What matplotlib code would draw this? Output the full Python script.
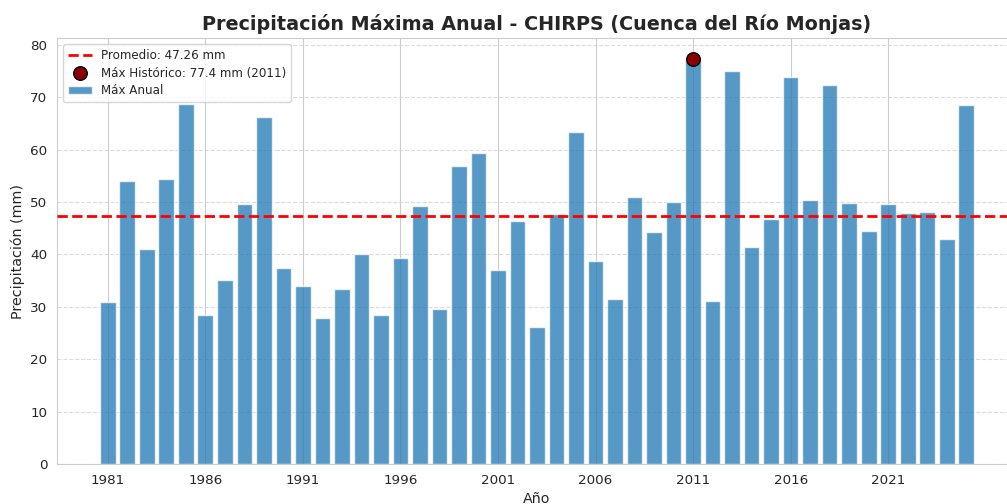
import matplotlib
matplotlib.use("Agg")
import matplotlib.pyplot as plt
import seaborn as sns
import numpy as np

# datos CHIRPS - precipitación máxima anual (mm)
anios = list(range(1981, 2026))
max_anual = [30.9, 54.0, 41.0, 54.5, 68.7,
             28.5, 35.1, 49.6, 66.3, 37.4,
             34.0, 27.9, 33.5, 40.1, 28.5,
             39.3, 49.3, 29.5, 56.8, 59.4,
             37.1, 46.3, 26.2, 47.8, 63.4,
             38.8, 31.5, 50.9, 44.2, 50.0,
             77.4, 31.2, 75.0, 41.5, 46.7,
             73.8, 50.4, 72.4, 49.8, 44.4,
             49.6, 47.9, 48.1, 43.0, 68.5]
promedio = 47.26
anio_max = 2011
valor_max = 77.4

sns.set_style("whitegrid")
plt.rcParams['font.family'] = ['DejaVu Sans']

fig = plt.figure(figsize=(10.07, 5.04), dpi=100)
ax = fig.add_axes([57/1007, 40/504, 960/1007, 425.7/504])

ax.bar(anios, max_anual, width=0.8, color='tab:blue', alpha=0.75,
       edgecolor='white', linewidth=1, label='Máx Anual', zorder=2)
ax.axhline(promedio, color='red', linestyle='--', linewidth=2,
           label=f'Promedio: {promedio:.2f} mm', zorder=3)
ax.scatter([anio_max], [valor_max], s=95, color='darkred', edgecolor='black',
           zorder=5, label=f'Máx Histórico: {valor_max} mm ({anio_max})')

ax.set_title('Precipitación Máxima Anual - CHIRPS (Cuenca del Río Monjas)',
             fontsize=13.8, fontweight='bold', color='.15', pad=6)
ax.set_xlabel('Año', fontsize=10.3, color='.15', labelpad=4)
ax.set_ylabel('Precipitación (mm)', fontsize=10.3, color='.15', labelpad=4)

ax.set_xticks(range(1981, 2026, 5))
ax.set_xlim(1978.4, 2027.6)
ax.set_ylim(0, valor_max * 1.05)
ax.tick_params(labelsize=9.7, colors='.15')

ax.grid(axis='y', linestyle='--', alpha=0.7)
ax.legend(loc='upper left', fontsize=8.6, frameon=True, labelspacing=0.38)

fig.savefig('out.png', dpi=100)
